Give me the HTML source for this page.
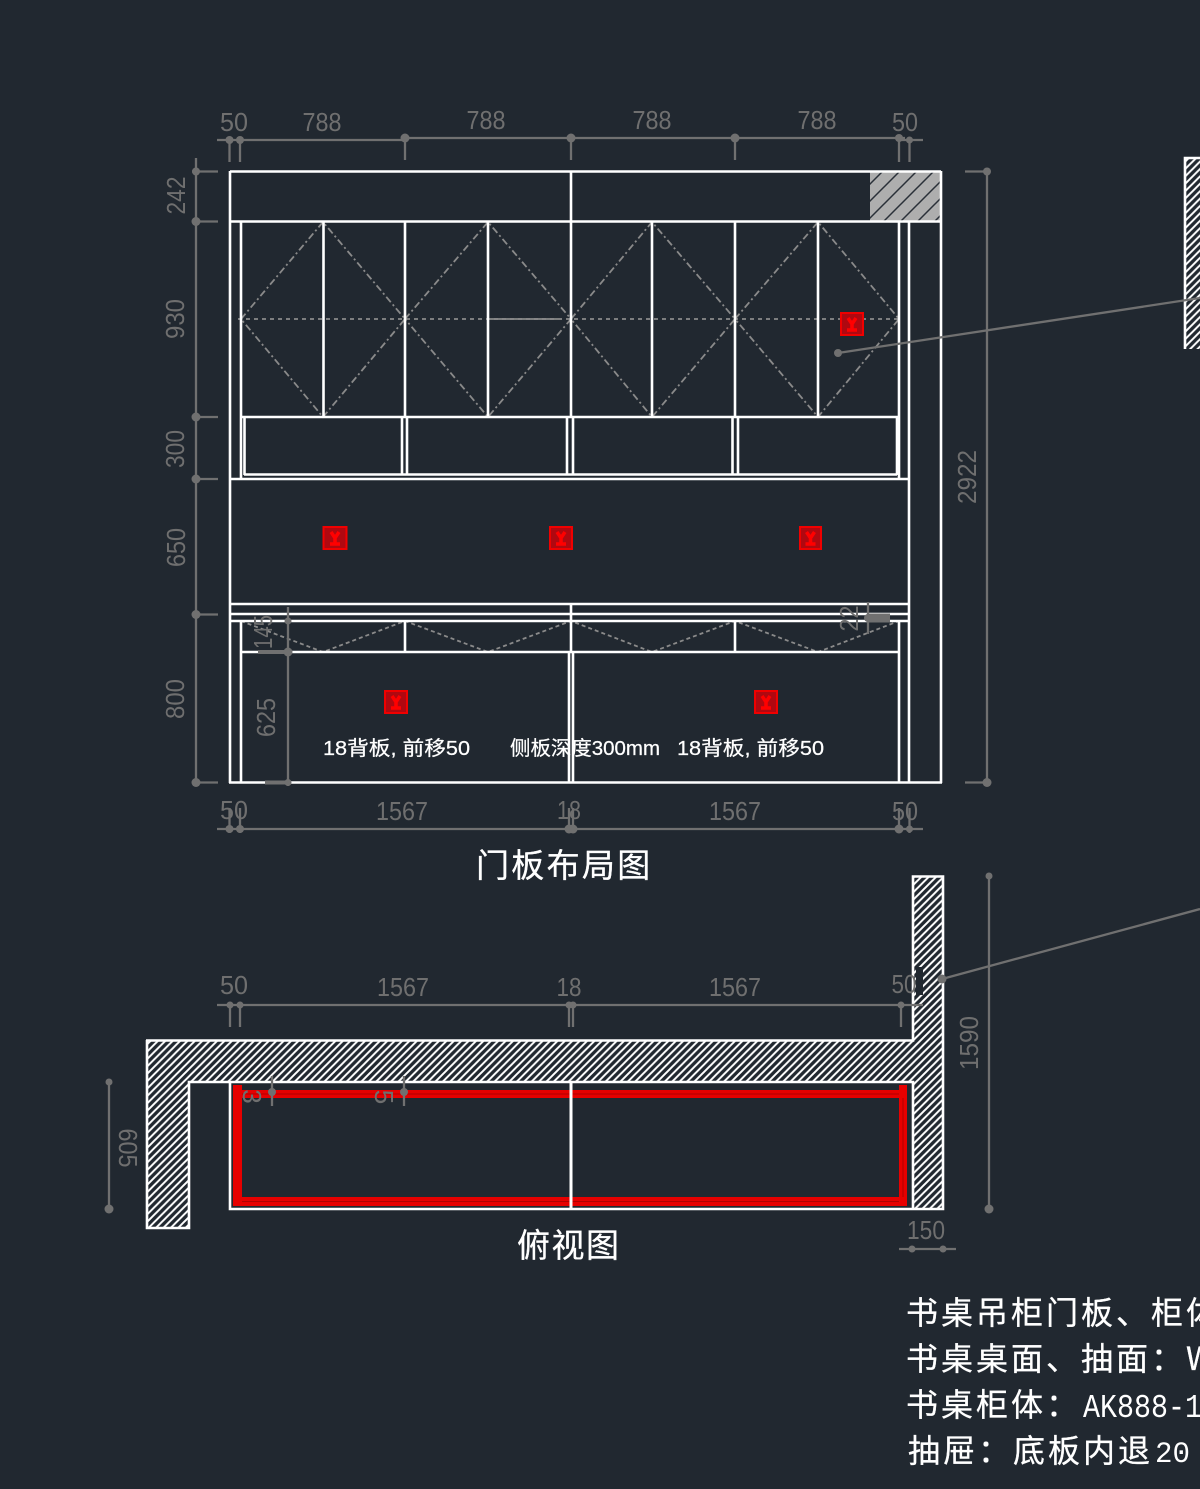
<!DOCTYPE html>
<html><head><meta charset="utf-8"><style>
html,body{margin:0;padding:0;background:#212830}
svg{display:block;filter:blur(0.35px)}
.d{font-family:"Liberation Sans",sans-serif;font-size:26px;fill:#6f6f6f;text-anchor:middle}
.t{font-family:"WenQuanYi Zen Hei","Noto Sans CJK SC","Liberation Sans",sans-serif;fill:#fff;stroke:#fff;stroke-width:0.3}
.s{font-family:"Liberation Sans","WenQuanYi Zen Hei","Noto Sans CJK SC",sans-serif;font-size:20px;fill:#fff;stroke:#fff;stroke-width:0.25}
.w line,.w rect,.w polyline{stroke:#fff;stroke-width:2.6;fill:none}
.g line{stroke:#707070;stroke-width:2.3;fill:none}
.p circle{fill:#707070}
.z path{stroke:#8a8a8a;stroke-width:1.8;fill:none;stroke-dasharray:7 3 2 3}
.m{font-family:"Liberation Mono",monospace;fill:#fff}
</style></head><body>
<svg width="1200" height="1489" viewBox="0 0 1200 1489" xmlns="http://www.w3.org/2000/svg">
<defs>
<pattern id="h" width="7.400" height="7.400" patternUnits="userSpaceOnUse">
<path d="M-1 8.400L8.400 -1M-1 1L1 -1M6.400 8.400L8.400 6.400" stroke="#fff" stroke-width="2" fill="none"/>
</pattern>
<pattern id="h2" width="17" height="17" patternUnits="userSpaceOnUse">
<rect width="17" height="17" fill="#aeaeae"/>
<path d="M-1 18L18 -1M-1 1L1 -1M16 18L18 16" stroke="#2a3038" stroke-width="1.5" fill="none"/>
</pattern>
</defs>
<rect width="1200" height="1489" fill="#212830"/>

<!-- hatched blocks -->
<rect x="870" y="172" width="71" height="50" fill="url(#h2)"/>
<rect x="1185" y="159" width="15" height="190" fill="url(#h)"/>
<path d="M147 1041H914V877H943V1209H914V1082H189V1228H147Z" fill="url(#h)"/>
<rect x="916" y="967" width="7" height="28" fill="#212830"/>

<!-- diagonals -->
<g class="z">
<path d="M241 319L323 222L405 319L323 417Z"/>
<path d="M405 319L488 222L571 319L488 417Z"/>
<path d="M571 319L652 222L735 319L652 417Z"/>
<path d="M735 319L818 222L899 319L818 417Z"/>
<path d="M241 621L323 652L405 621L488 652L571 621L652 652L735 621L818 652L899 621" style="stroke-dasharray:4 3"/>
<path d="M238 319H902" style="stroke-dasharray:4 4"/>
<path d="M488 319H558" style="stroke-dasharray:none"/>
</g>

<!-- white structure -->
<g class="w">
<line x1="230" y1="171.500" x2="941" y2="171.500"/>
<line x1="230" y1="171" x2="230" y2="783"/>
<line x1="941" y1="171" x2="941" y2="783"/>
<line x1="229" y1="782.500" x2="942" y2="782.500"/>
<line x1="230" y1="221.500" x2="941" y2="221.500"/>
<line x1="571" y1="171" x2="571" y2="417"/>
<line x1="241" y1="221" x2="241" y2="479"/>
<line x1="899" y1="221" x2="899" y2="479"/>
<line x1="909" y1="221" x2="909" y2="783"/>
<line x1="323.500" y1="221" x2="323.500" y2="417"/>
<line x1="405" y1="221" x2="405" y2="417"/>
<line x1="488" y1="221" x2="488" y2="417"/>
<line x1="652" y1="221" x2="652" y2="417"/>
<line x1="735" y1="221" x2="735" y2="417"/>
<line x1="818" y1="221" x2="818" y2="417"/>
<line x1="241" y1="417" x2="899" y2="417"/>
<line x1="244.500" y1="417" x2="244.500" y2="475"/>
<line x1="402" y1="417" x2="402" y2="475"/>
<line x1="407" y1="417" x2="407" y2="475"/>
<line x1="567" y1="417" x2="567" y2="475"/>
<line x1="573" y1="417" x2="573" y2="475"/>
<line x1="732.500" y1="417" x2="732.500" y2="475"/>
<line x1="738" y1="417" x2="738" y2="475"/>
<line x1="897" y1="417" x2="897" y2="475"/>
<line x1="244" y1="474.500" x2="897" y2="474.500"/>
<line x1="230" y1="479" x2="909" y2="479"/>
<line x1="230" y1="604" x2="909" y2="604"/>
<line x1="230" y1="614" x2="909" y2="614"/>
<line x1="230" y1="621" x2="909" y2="621"/>
<line x1="241" y1="652" x2="899" y2="652"/>
<line x1="241" y1="621" x2="241" y2="783"/>
<line x1="899" y1="621" x2="899" y2="783"/>
<line x1="405" y1="621" x2="405" y2="652"/>
<line x1="735" y1="621" x2="735" y2="652"/>
<line x1="571" y1="604" x2="571" y2="652"/>
<line x1="569" y1="652" x2="569" y2="783"/>
<line x1="573" y1="652" x2="573" y2="783"/>
<!-- plan -->
<polyline points="1185,349 1185,158 1200,158"/>
<polyline points="146,1040.500 913,1040.500 913,876.500 943,876.500 943,1209 230,1209 230,1082"/>
<polyline points="147,1040 147,1228 189,1228 189,1082 913,1082 913,1209"/>
</g>

<!-- red plan frame -->
<g fill="#e60000">
<rect x="233" y="1085" width="9" height="121"/>
<rect x="233" y="1090" width="674" height="8"/>
<rect x="233" y="1197" width="674" height="9"/>
<rect x="899" y="1085" width="8" height="121"/>
</g>
<g stroke="#b00000" stroke-width="1" fill="none">
<path d="M242 1094H899M242 1201.500H899M903 1098V1197"/>
</g>
<line x1="571" y1="1082" x2="571" y2="1209" stroke="#fff" stroke-width="3"/>

<!-- red markers -->
<g fill="#b00810" stroke="#f00000" stroke-width="2">
<rect x="841" y="313" width="22" height="22"/>
<rect x="323.500" y="527" width="23" height="22"/>
<rect x="550" y="527" width="22" height="22"/>
<rect x="800" y="527" width="21" height="22"/>
<rect x="385" y="691" width="22" height="22"/>
<rect x="755" y="691" width="22" height="22"/>
</g>
<g stroke="#ff0000" stroke-width="3.500" fill="none">
<path d="M848 318L852 324L856 318M852 324V330M847 330H857"/>
<path d="M331 532L335 538L339 532M335 538V544M330 544H340"/>
<path d="M557 532L561 538L565 532M561 538V544M556 544H566"/>
<path d="M806.500 532L810.500 538L814.500 532M810.500 538V544M805.500 544H815.500"/>
<path d="M392 696L396 702L400 696M396 702V708M391 708H401"/>
<path d="M762 696L766 702L770 696M766 702V708M761 708H771"/>
</g>

<!-- dimension lines -->
<g class="g">
<line x1="217" y1="140" x2="405" y2="140"/><line x1="405" y1="138" x2="905" y2="138"/><line x1="899" y1="140" x2="923" y2="140"/>
<line x1="229.500" y1="140" x2="229.500" y2="162"/><line x1="240" y1="140" x2="240" y2="162"/>
<line x1="405" y1="138" x2="405" y2="160"/><line x1="571" y1="138" x2="571" y2="160"/><line x1="735" y1="138" x2="735" y2="160"/>
<line x1="899" y1="138" x2="899" y2="162"/><line x1="909.500" y1="140" x2="909.500" y2="162"/>
<line x1="196" y1="158" x2="196" y2="783"/>
<line x1="192" y1="171.500" x2="218" y2="171.500"/><line x1="192" y1="221.500" x2="218" y2="221.500"/><line x1="192" y1="417" x2="218" y2="417"/><line x1="192" y1="479" x2="218" y2="479"/><line x1="192" y1="614.500" x2="218" y2="614.500"/><line x1="192" y1="782.500" x2="218" y2="782.500"/>
<line x1="987" y1="171" x2="987" y2="783"/><line x1="965" y1="171.500" x2="987" y2="171.500"/><line x1="965" y1="782.500" x2="987" y2="782.500"/>
<line x1="217" y1="829" x2="923" y2="829"/>
<line x1="229.500" y1="808" x2="229.500" y2="833"/><line x1="240" y1="808" x2="240" y2="833"/><line x1="569" y1="808" x2="569" y2="833"/><line x1="573" y1="808" x2="573" y2="833"/><line x1="899" y1="808" x2="899" y2="833"/><line x1="909.500" y1="808" x2="909.500" y2="833"/>
<line x1="288" y1="607" x2="288" y2="786"/><line x1="258" y1="652" x2="288" y2="652" style="stroke-width:4"/><line x1="265" y1="782.500" x2="288" y2="782.500" style="stroke-width:4"/>
<line x1="868" y1="602" x2="868" y2="634"/><line x1="868" y1="618" x2="890" y2="618" style="stroke-width:9"/>
<line x1="838" y1="353" x2="1200" y2="298"/>
<line x1="942" y1="979" x2="1200" y2="909"/>
<line x1="217" y1="1005" x2="923" y2="1005"/>
<line x1="230" y1="1005" x2="230" y2="1027"/><line x1="240" y1="1005" x2="240" y2="1027"/><line x1="569" y1="1005" x2="569" y2="1027"/><line x1="573" y1="1005" x2="573" y2="1027"/><line x1="901" y1="1005" x2="901" y2="1027"/>
<line x1="989" y1="876" x2="989" y2="1209"/>
<line x1="109" y1="1082" x2="109" y2="1209"/>
<line x1="899" y1="1249" x2="956" y2="1249"/>
<line x1="272" y1="1076" x2="272" y2="1106"/><line x1="404" y1="1076" x2="404" y2="1106"/>
</g>
<g class="p">
<circle cx="229.500" cy="140" r="4"/><circle cx="240" cy="140" r="4"/><circle cx="405" cy="138" r="4.500"/><circle cx="571" cy="138" r="4.500"/><circle cx="735" cy="138" r="4.500"/><circle cx="899" cy="138" r="4"/><circle cx="909.500" cy="140" r="3.500"/>
<circle cx="196" cy="171.500" r="4"/><circle cx="196" cy="221.500" r="4.500"/><circle cx="196" cy="417" r="4.500"/><circle cx="196" cy="479" r="4.500"/><circle cx="196" cy="614.500" r="4.500"/><circle cx="196" cy="782.500" r="4.500"/>
<circle cx="987" cy="171.500" r="4"/><circle cx="987" cy="782.500" r="4.500"/>
<circle cx="229.500" cy="829" r="4"/><circle cx="240" cy="829" r="4"/><circle cx="569" cy="829" r="4.500"/><circle cx="573" cy="829" r="4.500"/><circle cx="899" cy="829" r="4.500"/><circle cx="909.500" cy="829" r="3.500"/>
<circle cx="288" cy="621" r="3.500"/><circle cx="288" cy="652" r="4.500"/><circle cx="288" cy="782.500" r="3.500"/><circle cx="868" cy="618" r="4"/>
<circle cx="838" cy="353" r="4"/><circle cx="942" cy="979" r="4.500"/>
<circle cx="230" cy="1005" r="3.500"/><circle cx="240" cy="1005" r="3.500"/><circle cx="569" cy="1005" r="3.500"/><circle cx="573" cy="1005" r="3.500"/><circle cx="901" cy="1005" r="3.500"/>
<circle cx="989" cy="876" r="3.500"/><circle cx="989" cy="1209" r="4.500"/>
<circle cx="109" cy="1082" r="3.500"/><circle cx="109" cy="1209" r="4.500"/>
<circle cx="912" cy="1249" r="3.500"/><circle cx="943" cy="1249" r="3.500"/>
<circle cx="272" cy="1092" r="4"/><circle cx="404" cy="1092" r="4"/>
</g>

<!-- dimension labels -->
<g class="d">
<text x="234" y="131" textLength="28" lengthAdjust="spacingAndGlyphs">50</text>
<text x="322" y="131" textLength="39" lengthAdjust="spacingAndGlyphs">788</text>
<text x="486" y="129" textLength="39" lengthAdjust="spacingAndGlyphs">788</text>
<text x="652" y="129" textLength="39" lengthAdjust="spacingAndGlyphs">788</text>
<text x="817" y="129" textLength="39" lengthAdjust="spacingAndGlyphs">788</text>
<text x="905" y="131" textLength="26" lengthAdjust="spacingAndGlyphs">50</text>
<text transform="translate(185,195.500) rotate(-90)" textLength="38" lengthAdjust="spacingAndGlyphs">242</text>
<text transform="translate(184,319) rotate(-90)" textLength="40" lengthAdjust="spacingAndGlyphs">930</text>
<text transform="translate(184,449) rotate(-90)" textLength="38" lengthAdjust="spacingAndGlyphs">300</text>
<text transform="translate(185,547.500) rotate(-90)" textLength="39" lengthAdjust="spacingAndGlyphs">650</text>
<text transform="translate(184,699) rotate(-90)" textLength="40" lengthAdjust="spacingAndGlyphs">800</text>
<text transform="translate(275,717.500) rotate(-90)" textLength="39" lengthAdjust="spacingAndGlyphs">625</text>
<text transform="translate(272,632) rotate(-90)" textLength="34" lengthAdjust="spacingAndGlyphs">145</text>
<text transform="translate(858,618.500) rotate(-90)" textLength="26" lengthAdjust="spacingAndGlyphs">22</text>
<text transform="translate(976,477) rotate(-90)" textLength="54" lengthAdjust="spacingAndGlyphs">2922</text>
<text x="234" y="819" textLength="28" lengthAdjust="spacingAndGlyphs">50</text>
<text x="402" y="820" textLength="52" lengthAdjust="spacingAndGlyphs">1567</text>
<text x="569" y="819" textLength="24" lengthAdjust="spacingAndGlyphs">18</text>
<text x="735" y="820" textLength="52" lengthAdjust="spacingAndGlyphs">1567</text>
<text x="905" y="820" textLength="26" lengthAdjust="spacingAndGlyphs">50</text>
<text x="234" y="994" textLength="28" lengthAdjust="spacingAndGlyphs">50</text>
<text x="403" y="996" textLength="52" lengthAdjust="spacingAndGlyphs">1567</text>
<text x="569" y="996" textLength="25" lengthAdjust="spacingAndGlyphs">18</text>
<text x="735" y="996" textLength="52" lengthAdjust="spacingAndGlyphs">1567</text>
<text x="904" y="993" textLength="25" lengthAdjust="spacingAndGlyphs">50</text>
<text x="926" y="1239" textLength="38" lengthAdjust="spacingAndGlyphs">150</text>
<text transform="translate(978,1043) rotate(-90)" textLength="54" lengthAdjust="spacingAndGlyphs">1590</text>
<text transform="translate(119,1148) rotate(90)" textLength="39" lengthAdjust="spacingAndGlyphs">605</text>
<text transform="translate(243,1096.500) rotate(90)">3</text>
<text transform="translate(375,1097) rotate(90)">5</text>
</g>

<!-- white labels -->
<text class="s" x="323" y="755" textLength="147" lengthAdjust="spacingAndGlyphs">18背板, 前移50</text>
<text class="s" x="510" y="755" textLength="150" lengthAdjust="spacingAndGlyphs">侧板深度300mm</text>
<text class="s" x="677" y="755" textLength="147" lengthAdjust="spacingAndGlyphs">18背板, 前移50</text>

<text class="t" x="476" y="877" font-size="33" letter-spacing="2.300">门板布局图</text>
<text class="t" x="517" y="1257" font-size="33" letter-spacing="1.500">俯视图</text>

<text class="t" x="906" y="1324" font-size="32" letter-spacing="3">书桌吊柜门板、柜体</text>
<text class="t" x="906" y="1370" font-size="32" letter-spacing="3">书桌桌面、抽面：W</text>
<text class="t" x="906" y="1416" font-size="32" letter-spacing="3">书桌柜体：</text>
<text class="m" x="1083" y="1417" font-size="33" textLength="119" lengthAdjust="spacingAndGlyphs">AK888-1</text>
<text class="t" x="908" y="1462" font-size="32" letter-spacing="3">抽屉：底板内退</text>
<text class="m" x="1155" y="1462" font-size="30" textLength="35" lengthAdjust="spacingAndGlyphs">20</text>
</svg>
</body></html>
